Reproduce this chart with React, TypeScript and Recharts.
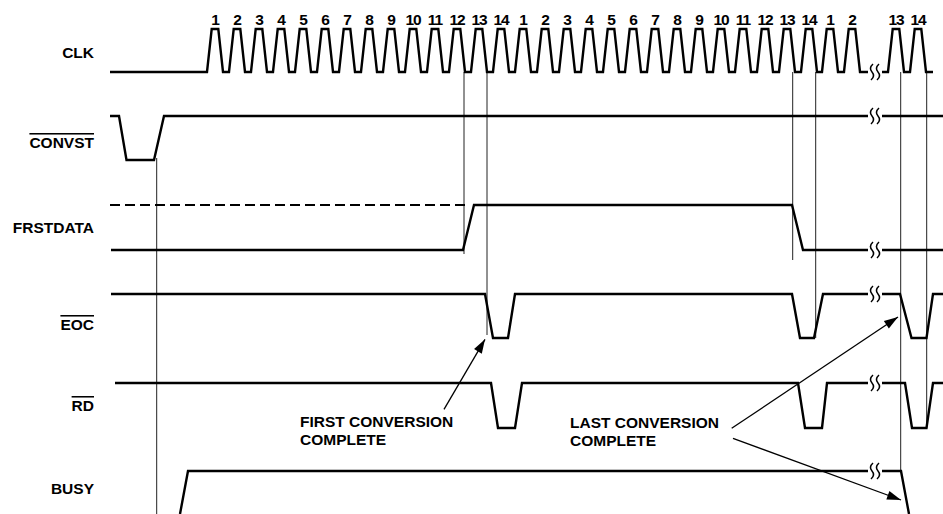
import React from 'react';
import { ComposedChart, Line, Scatter, XAxis, YAxis } from 'recharts';

// ---------- data (time units along x, signal levels along a downward axis) ----------
const WIDTH = 943;
const HEIGHT = 514;

// Clock pulse centres before and after the break
const clkPulsesBeforeBreak = [
  215, 237, 259, 281, 303, 325, 347, 369, 391, 413, 435, 457, 479, 501,
  523, 545, 567, 589, 611, 633, 655, 677, 699, 721, 743, 765, 787, 809,
  830, 852,
];
const clkPulsesAfterBreak = [896, 918];
const clkPulseNumbersBefore = [
  '1', '2', '3', '4', '5', '6', '7', '8', '9', '10', '11', '12', '13', '14',
  '1', '2', '3', '4', '5', '6', '7', '8', '9', '10', '11', '12', '13', '14',
  '1', '2',
];
const clkPulseNumbersAfter = ['13', '14'];

const CLK_HIGH = 29;
const CLK_LOW = 72;
const BREAK_T = 875;

// Other waveforms: [time, level]; null level = break in the trace
const convstWave: [number, number | null][] = [
  [110, 116], [119, 116], [126.5, 160], [154, 160], [164, 116], [868, 116],
  [BREAK_T, null], [882, 116], [943, 116],
];
const frstdataWave: [number, number | null][] = [
  [111, 250], [463, 250], [474, 205], [792, 205], [803, 250], [868, 250],
  [BREAK_T, null], [882, 250], [943, 250],
];
const frstdataDashed: [number, number | null][] = [[110, 205], [468, 205]];
const eocWave: [number, number | null][] = [
  [111, 294], [485, 294], [493, 338], [508, 338], [515, 294], [792, 294],
  [800, 338], [814, 338], [823, 294], [868, 294], [BREAK_T, null], [882, 294],
  [900, 294], [911.5, 338], [926.5, 338], [933, 294], [943, 294],
];
const rdWave: [number, number | null][] = [
  [115, 383], [491, 383], [498, 428], [515, 428], [522, 383], [798, 383],
  [805, 428], [822, 428], [827, 383], [868, 383], [BREAK_T, null], [882, 383],
  [905, 383], [912, 428], [926.5, 428], [933, 383], [943, 383],
];
const busyWave: [number, number | null][] = [
  [180, 514], [188, 471], [868, 471], [BREAK_T, null], [882, 471], [901, 471],
  [909, 514],
];

// Thin timing reference lines: [time, fromLevel, toLevel]
const markerLines: [number, number, number][] = [
  [156.7, 158, 514],
  [464, 72, 254],
  [487, 72, 335],
  [792.7, 72, 260],
  [815.7, 72, 338],
  [900.7, 72, 471],
  [926.7, 72, 428],
];

// Annotation arrows: tail -> tip
const arrowFirst: [number, number][] = [[444, 409.3], [485, 339.3]];
const arrowLastEoc: [number, number][] = [[731.7, 428.3], [898, 317]];
const arrowLastBusy: [number, number][] = [[733, 438.3], [901, 500]];

// Break marks on each trace
const breakLevels = [72, 116, 250, 294, 383, 471];

// Signal names
const signalNames = ['CLK', 'CONVST', 'FRSTDATA', 'EOC', 'RD', 'BUSY'];
const signalBaselines = [58, 148, 233, 330, 411, 494];
const signalActiveLow = [false, true, false, true, true, false];
const SIGNAL_NAME_RIGHT = 94;

// Annotation texts
const annotationLines = [
  ['FIRST CONVERSION', 'COMPLETE'],
  ['LAST CONVERSION', 'COMPLETE'],
];
const annotationAnchors: [number, number][] = [[300, 427], [570, 428]];

const CLK_NUMBER_BASELINE = 25;

// ---------- builders ----------
const FONT = "'Liberation Sans', Arial, Helvetica, sans-serif";

type Pt = { t: number; v: number | null };
const toPts = (arr: [number, number | null][]): Pt[] => arr.map(([t, v]) => ({ t, v }));

function clockSegment(start: number, centers: number[], end: number): Pt[] {
  const pts: Pt[] = [{ t: start, v: CLK_LOW }];
  centers.forEach((c) => {
    pts.push({ t: c - 8, v: CLK_LOW }, { t: c - 3.3, v: CLK_HIGH }, { t: c + 3.3, v: CLK_HIGH }, { t: c + 8, v: CLK_LOW });
  });
  pts.push({ t: end, v: CLK_LOW });
  return pts;
}

const clkData: Pt[] = [
  ...clockSegment(110, clkPulsesBeforeBreak, 868),
  { t: BREAK_T, v: null },
  ...clockSegment(882, clkPulsesAfterBreak, 933),
];

const clkNumberData = [
  ...clkPulsesBeforeBreak.map((t, i) => ({ t, v: CLK_NUMBER_BASELINE, text: clkPulseNumbersBefore[i] })),
  ...clkPulsesAfterBreak.map((t, i) => ({ t, v: CLK_NUMBER_BASELINE, text: clkPulseNumbersAfter[i] })),
];

const signalNameData = signalNames.map((text, i) => ({
  t: SIGNAL_NAME_RIGHT,
  v: signalBaselines[i],
  text,
  over: signalActiveLow[i],
}));

const annotationData = annotationLines.map((lines, i) => ({
  t: annotationAnchors[i][0],
  v: annotationAnchors[i][1],
  lines,
}));

const breakData = breakLevels.map((v) => ({ t: BREAK_T, v }));

const SIGNALS: { key: string; data: Pt[]; dash?: string; width?: number }[] = [
  { key: 'clk', data: clkData },
  { key: 'convst', data: toPts(convstWave) },
  { key: 'frst', data: toPts(frstdataWave) },
  { key: 'frstDash', data: toPts(frstdataDashed), dash: '10 5', width: 2 },
  { key: 'eoc', data: toPts(eocWave) },
  { key: 'rd', data: toPts(rdWave) },
  { key: 'busy', data: toPts(busyWave) },
];

const makeArrowDot = (arr: [number, number][]) => (props: any) => {
  const { cx, cy, index } = props;
  if (index !== arr.length - 1 || cx == null || cy == null) return <g key={`ad-${index}`} />;
  const [a, b] = [arr[arr.length - 2], arr[arr.length - 1]];
  const ang = Math.atan2(b[1] - a[1], b[0] - a[0]);
  const L = 14;
  const hw = 4.5;
  const bx = cx - L * Math.cos(ang);
  const by = cy - L * Math.sin(ang);
  const px = -Math.sin(ang) * hw;
  const py = Math.cos(ang) * hw;
  return (
    <polygon
      key={`ad-${index}`}
      points={`${cx},${cy} ${bx + px},${by + py} ${bx - px},${by - py}`}
      fill="#000"
      stroke="none"
    />
  );
};

const SquiggleShape = (props: any) => {
  const { cx, cy } = props;
  return (
    <g fill="none" stroke="#000" strokeWidth={1.5}>
      {[-3, 3].map((dx) => {
        const x = cx + dx;
        return (
          <path
            key={dx}
            d={`M ${x + 1} ${cy - 8} Q ${x - 3.5} ${cy - 4} ${x} ${cy} Q ${x + 3.5} ${cy + 4} ${x - 1} ${cy + 8}`}
          />
        );
      })}
    </g>
  );
};

const ClkNumberShape = (props: any) => {
  const { cx, cy, payload } = props;
  return (
    <text x={cx} y={cy} textAnchor="middle" fontFamily={FONT} fontWeight="bold" fontSize={15.5} fill="#000" letterSpacing={-1}>
      {payload.text}
    </text>
  );
};

const SignalNameShape = (props: any) => {
  const { cx, cy, payload } = props;
  return (
    <text
      x={cx}
      y={cy}
      textAnchor="end"
      fontFamily={FONT}
      fontWeight="bold"
      fontSize={15.5}
      fill="#000"
      style={payload.over ? { textDecoration: 'overline' } : undefined}
    >
      {payload.text}
    </text>
  );
};

const AnnotationShape = (props: any) => {
  const { cx, cy, payload } = props;
  return (
    <text x={cx} y={cy} textAnchor="start" fontFamily={FONT} fontWeight="bold" fontSize={15.5} fill="#000">
      {payload.lines.map((l: string, i: number) => (
        <tspan key={i} x={cx} dy={i === 0 ? 0 : 17.5}>
          {l}
        </tspan>
      ))}
    </text>
  );
};

export default function App() {
  return (
    <div style={{ position: 'absolute', left: 0, top: 0, width: WIDTH, height: HEIGHT, background: '#fff' }}>
      <ComposedChart width={WIDTH} height={HEIGHT} margin={{ top: 0, right: 0, bottom: 0, left: 0 }}>
        <XAxis dataKey="t" type="number" domain={[0, WIDTH]} hide allowDataOverflow />
        <YAxis dataKey="v" type="number" domain={[0, HEIGHT]} reversed hide allowDataOverflow />

        {markerLines.map(([t, a, b], i) => (
          <Line
            key={`m${i}`}
            data={[{ t, v: a }, { t, v: b }]}
            dataKey="v"
            type="linear"
            stroke="#222"
            strokeWidth={1}
            dot={false}
            activeDot={false}
            isAnimationActive={false}
          />
        ))}

        {SIGNALS.map((s) => (
          <Line
            key={s.key}
            data={s.data}
            dataKey="v"
            type="linear"
            stroke="#000"
            strokeWidth={s.width ?? 2.4}
            strokeDasharray={s.dash}
            strokeLinejoin="miter"
            dot={false}
            activeDot={false}
            connectNulls={false}
            isAnimationActive={false}
          />
        ))}

        {[arrowFirst, arrowLastEoc, arrowLastBusy].map((arr, i) => (
          <Line
            key={`a${i}`}
            data={arr.map(([t, v]) => ({ t, v }))}
            dataKey="v"
            type="linear"
            stroke="#000"
            strokeWidth={1.3}
            dot={makeArrowDot(arr)}
            activeDot={false}
            isAnimationActive={false}
          />
        ))}

        <Scatter data={breakData} dataKey="v" shape={SquiggleShape} isAnimationActive={false} />
        <Scatter data={clkNumberData} dataKey="v" shape={ClkNumberShape} isAnimationActive={false} />
        <Scatter data={signalNameData} dataKey="v" shape={SignalNameShape} isAnimationActive={false} />
        <Scatter data={annotationData} dataKey="v" shape={AnnotationShape} isAnimationActive={false} />
      </ComposedChart>
    </div>
  );
}
